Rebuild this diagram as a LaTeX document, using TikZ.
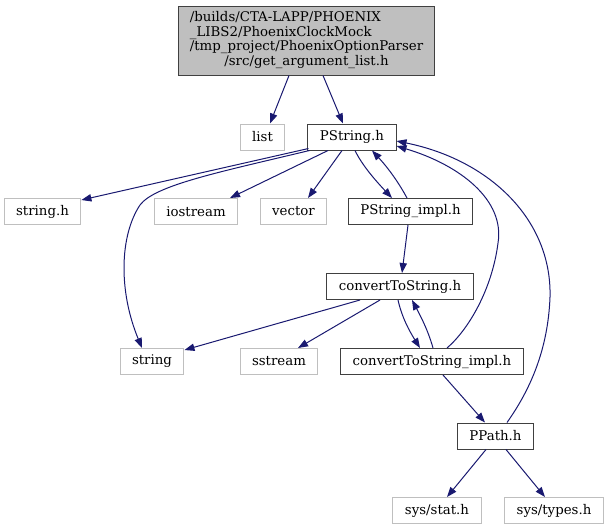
\documentclass[tikz,border=0pt]{standalone}
\usepackage{fontspec}
\setmainfont{DejaVu Serif}
\usetikzlibrary{calc,arrows.meta}
\definecolor{EdgeBlue}{HTML}{191970}
\definecolor{BoxGray}{HTML}{BFBFBF}
\definecolor{BoxDark}{HTML}{404040}
\tikzset{
    block/.style = {draw=BoxDark, rectangle, line width=0.75pt,
        minimum height=19.5pt,
        inner xsep=9pt, inner ysep=0pt,
        font=\fontsize{10}{11}\selectfont},
    sysblock/.style = {block, draw=BoxGray},
    mainblock/.style = {block, fill=BoxGray, minimum height=51.75pt, inner xsep=8.5pt},
    arrow/.style = {draw=EdgeBlue, line width=0.75pt, -{Triangle[length=7.5pt,width=5.5pt]}}
}

\begin{document}
\begin{tikzpicture}[x=0.75pt,y=-0.75pt]
                \useasboundingbox (0,0) rectangle (609,529);
                \node [mainblock] (main) at (306.5,40.5) {\begin{tabular}{@{}l@{}}/builds/CTA-LAPP/PHOENIX\\\_LIBS2/PhoenixClockMock\\/tmp\_project/PhoenixOptionParser\\\multicolumn{1}{@{}c@{}}{/src/get\_argument\_list.h}\end{tabular}};
                \node [sysblock] (list) at (262.5,137) {list};
                \node [block] (pstring) at (352,137) {PString.h};
                \node [sysblock] (stringh) at (42.5,211.5) {string.h};
                \node [sysblock] (iostream) at (196,211.5) {iostream};
                \node [sysblock] (vector) at (293.5,211.5) {vector};
                \node [block] (pstringimpl) at (410.5,211.5) {PString\_impl.h};
                \node [block] (convert) at (400,286.5) {convertToString.h};
                \node [sysblock] (string) at (152,361.5) {string};
                \node [sysblock] (sstream) at (279,361.5) {sstream};
                \node [block] (convertimpl) at (432,361.5) {convertToString\_impl.h};
                \node [block] (ppath) at (495.5,436) {PPath.h};
                \node [sysblock] (sysstat) at (437,510.5) {sys/stat.h};
                \node [sysblock] (systypes) at (554,510.5) {sys/types.h};
                \draw [arrow] ($(main.south)+(-17.5,0)$) -- ($(list.north)+(7.5,0)$);
                \draw [arrow] ($(main.south)+(16.5,0)$) -- ($(pstring.north)+(-9,0)$);
                \draw [arrow] ($(pstring.south west)+(1,-2)$) -- ($(stringh.north east)+(0,2)$);
                \draw [arrow] ($(pstring.south west)+(2,0)$) .. controls (220,172) and (155,185) .. (140,205)
                    .. controls (120,235) and (118,290) .. ($(string.north)+(-10,0)$);
                \draw [arrow] ($(pstring.south)+(-24,0)$) -- ($(iostream.north)+(34,0)$);
                \draw [arrow] ($(pstring.south)+(-10,0)$) -- ($(vector.north)+(14.5,0)$);
                \draw [arrow] ($(pstring.south)+(3,0)$) .. controls (362,165) and (375,180) .. ($(pstringimpl.north)+(-18.5,0)$);
                \draw [arrow] ($(pstringimpl.north)+(-3.5,0)$) .. controls (400,185) and (390,170) .. ($(pstring.south)+(20,0)$);
                \draw [arrow] ($(pstringimpl.south)+(-2.5,0)$) -- ($(convert.north)+(2,0)$);
                \draw [arrow] ($(convert.south)+(-40,0)$) -- ($(string.north east)+(0,2)$);
                \draw [arrow] ($(convert.south)+(-20,0)$) -- ($(sstream.north)+(19,0)$);
                \draw [arrow] ($(convert.south)+(-2,0)$) .. controls (402,318) and (410,332) .. ($(convertimpl.north)+(-12,0)$);
                \draw [arrow] ($(convertimpl.north)+(1,0)$) .. controls (428,330) and (420,315) .. ($(convert.south)+(12,0)$);
                \draw [arrow] ($(convertimpl.north)+(15,0)$) .. controls (468,330) and (492,290) .. (498,243)
                    .. controls (505,200) and (460,165) .. ($(pstring.east)+(0,9)$);
                \draw [arrow] ($(ppath.north)+(11.5,0)$) .. controls (530,390) and (548,350) .. (550,297)
                    .. controls (552,220) and (490,160) .. ($(pstring.east)+(0,4)$);
                \draw [arrow] ($(convertimpl.south)+(11,0)$) -- ($(ppath.north)+(-10.5,0)$);
                \draw [arrow] ($(ppath.south)+(-9.5,0)$) -- ($(sysstat.north)+(10,0)$);
                \draw [arrow] ($(ppath.south)+(10.5,0)$) -- ($(systypes.north)+(-9,0)$);
            \end{tikzpicture}
\end{document}
